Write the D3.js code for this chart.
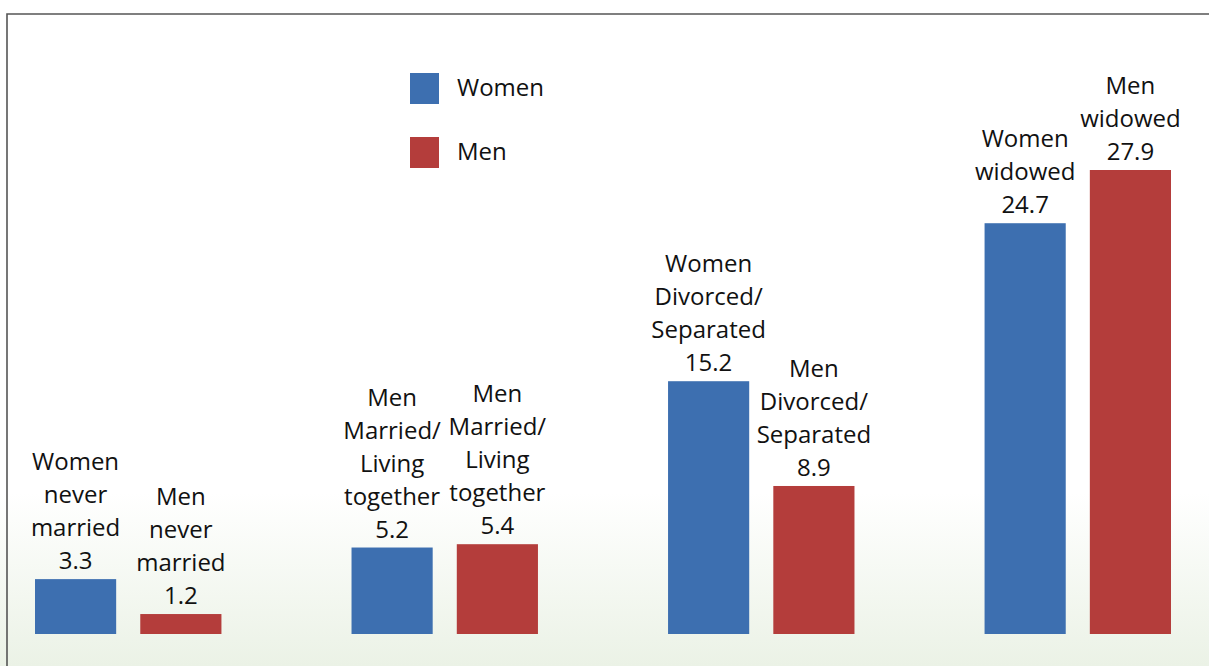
<!DOCTYPE html>
<html>
<head>
<meta charset="utf-8">
<script src="https://cdn.jsdelivr.net/npm/d3@7"></script>
<style>
  body { margin: 0; background: #fff; }
  svg { display: block; font-family: "Open Sans", sans-serif; }
</style>
</head>
<body>
<svg id="chart" width="1209" height="666"></svg>
<script>
// marital status groups
const groups = ["never married", "married", "divorced", "widowed"];
const sexes = ["Women", "Men"];
const women = [3.3, 5.2, 15.2, 24.7];
const men = [1.2, 5.4, 8.9, 27.9];
// labels as they appear over each bar (the chart says "Men" over both married bars)
const womenLabels = [
  ["Women", "never", "married"],
  ["Men", "Married/", "Living", "together"],
  ["Women", "Divorced/", "Separated"],
  ["Women", "widowed"]
];
const menLabels = [
  ["Men", "never", "married"],
  ["Men", "Married/", "Living", "together"],
  ["Men", "Divorced/", "Separated"],
  ["Men", "widowed"]
];
const colors = { Women: "#3d6fb0", Men: "#b43d3b" };

const W = 1209, H = 666;
const svg = d3.select("#chart");

// background gradient
const grad = svg.append("defs").append("linearGradient")
  .attr("id", "bg").attr("x1", 0).attr("y1", 0).attr("x2", 0).attr("y2", 1);
grad.append("stop").attr("offset", "0").attr("stop-color", "#ffffff");
grad.append("stop").attr("offset", "0.74").attr("stop-color", "#ffffff");
grad.append("stop").attr("offset", "1").attr("stop-color", "#ebf2e6");
svg.append("rect").attr("width", W).attr("height", H).attr("fill", "url(#bg)");

// frame, top and left only
svg.append("path")
  .attr("d", `M7,${H} V14 H${W}`)
  .attr("fill", "none")
  .attr("stroke", "#555")
  .attr("stroke-width", 1.6);

const baseY = 634;
const x0 = d3.scaleBand().domain(groups).range([35, 1171]).paddingInner(0.411).paddingOuter(0);
const x1 = d3.scaleBand().domain(sexes).range([0, x0.bandwidth()]).paddingInner(0.229).paddingOuter(0);
const y = d3.scaleLinear().domain([0, 27.9]).range([baseY, 170]);

const rows = [];
groups.forEach((g, i) => {
  rows.push({ group: g, sex: "Women", value: women[i], label: womenLabels[i] });
  rows.push({ group: g, sex: "Men", value: men[i], label: menLabels[i] });
});

const bar = svg.append("g").selectAll("g")
  .data(rows)
  .enter()
  .append("g")
  .attr("transform", d => `translate(${x0(d.group) + x1(d.sex)},0)`);

bar.append("rect")
  .attr("x", 0)
  .attr("y", d => y(d.value))
  .attr("width", x1.bandwidth())
  .attr("height", d => baseY - y(d.value))
  .attr("fill", d => colors[d.sex]);

const lineH = 33;
bar.append("text")
  .attr("text-anchor", "middle")
  .attr("font-size", "24px")
  .attr("fill", "#111")
  .each(function (d) {
    const lines = d.label.concat([d3.format(".1f")(d.value)]);
    const last = y(d.value) - 10;
    d3.select(this).selectAll("tspan")
      .data(lines)
      .enter()
      .append("tspan")
      .attr("x", x1.bandwidth() / 2)
      .attr("y", (t, k) => last - (lines.length - 1 - k) * lineH)
      .text(t => t);
  });

// legend
const legend = svg.append("g").selectAll("g")
  .data(sexes)
  .enter()
  .append("g")
  .attr("transform", (d, i) => `translate(410,${73 + i * 64})`);
legend.append("rect")
  .attr("width", 29).attr("height", 31)
  .attr("fill", d => colors[d]);
legend.append("text")
  .attr("x", 47).attr("y", 23)
  .attr("font-size", "24px")
  .attr("fill", "#111")
  .text(d => d);
</script>
</body>
</html>
